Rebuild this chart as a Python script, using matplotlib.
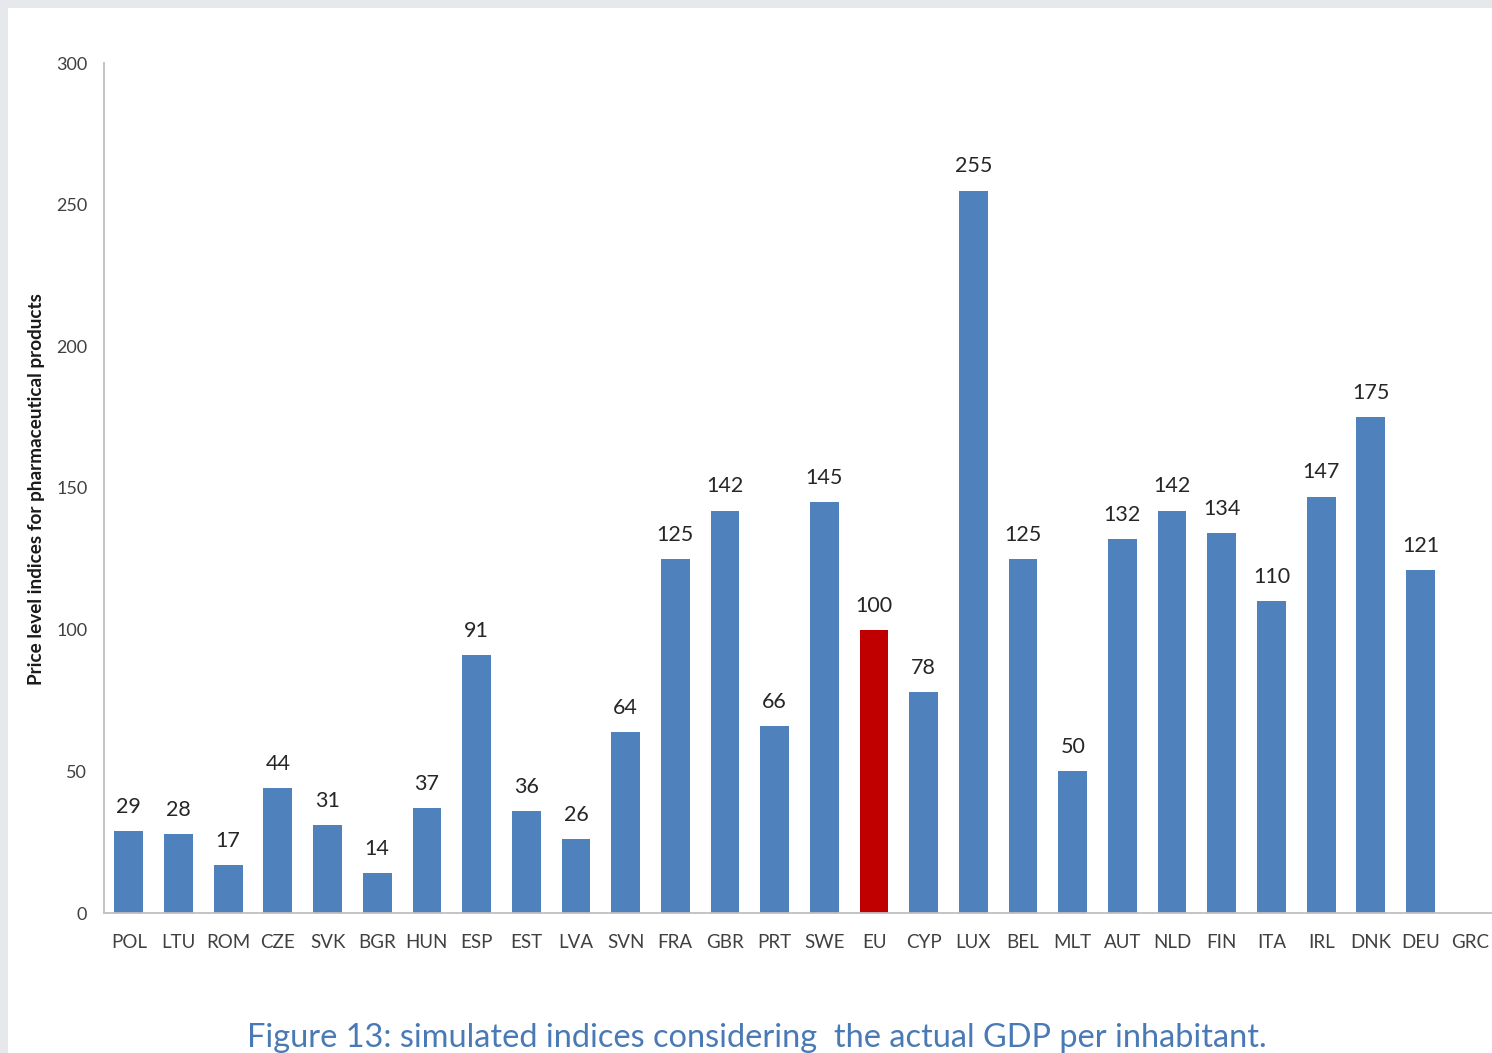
import matplotlib
matplotlib.use("Agg")
import matplotlib.pyplot as plt
from matplotlib.patches import Rectangle

# Country codes and simulated price level indices (EU = 100)
countries = ["POL", "LTU", "ROM", "CZE", "SVK", "BGR", "HUN", "ESP", "EST", "LVA",
             "SVN", "FRA", "GBR", "PRT", "SWE", "EU", "CYP", "LUX", "BEL", "MLT",
             "AUT", "NLD", "FIN", "ITA", "IRL", "DNK", "DEU", "GRC"]
values = [29, 28, 17, 44, 31, 14, 37, 91, 36, 26,
          64, 125, 142, 66, 145, 100, 78, 255, 125, 50,
          132, 142, 134, 110, 147, 175, 121, None]
y_ticks = [0, 50, 100, 150, 200, 250, 300]

bar_blue = "#4f81bd"
eu_red = "#c00000"
font = ["Lato", "DejaVu Sans"]

W, H = 1492, 1053
fig = plt.figure(figsize=(W / 100, H / 100), dpi=100, facecolor="#e6e8ec")

# White page area behind everything
fig.patches.append(Rectangle((8 / W, 0), 1 - 8 / W, 1 - 8 / H,
                             transform=fig.transFigure, facecolor="white",
                             edgecolor="none", zorder=-10))

ax = fig.add_axes([104 / W, 1 - 913 / H, (1495 - 104) / W, (913 - 63) / H])
ax.set_facecolor("none")
ax.set_zorder(1)

x = list(range(len(countries)))
for i, (c, v) in enumerate(zip(countries, values)):
    if v is None:
        continue
    color = eu_red if c == "EU" else bar_blue
    ax.bar(i, v, width=0.58, color=color, zorder=2)
    ax.text(i, v + 5, str(v), ha="center", va="bottom", fontsize=15.5,
            color="#262626", family=font)

ax.set_xlim(-0.5, len(countries) - 0.5)
ax.set_ylim(0, 300)
ax.set_yticks(y_ticks)
ax.set_xticks(x)
ax.set_xticklabels(countries, family=font, fontsize=13.5, color="#404040")
ax.set_yticklabels([str(t) for t in y_ticks], family=font, fontsize=13, color="#404040")
ax.tick_params(axis="both", length=0)
ax.tick_params(axis="x", pad=15)
ax.tick_params(axis="y", pad=12)

for s in ["top", "right"]:
    ax.spines[s].set_visible(False)
for s in ["left", "bottom"]:
    ax.spines[s].set_color("#bfbfbf")
    ax.spines[s].set_linewidth(1.3)

fig.text(37 / W, 1 - 489 / H, "Price level indices for pharmaceutical products",
         rotation=90, ha="center", va="center", fontsize=13.6, fontweight="bold",
         color="#1a1a1a", family=font)

fig.text(757 / W, 1 - 1038 / H,
         "Figure 13: simulated indices considering  the actual GDP per inhabitant.",
         ha="center", va="center", fontsize=23.4, color="#4a7ab5", family=font)

fig.savefig("out.png", dpi=100, facecolor=fig.get_facecolor())
